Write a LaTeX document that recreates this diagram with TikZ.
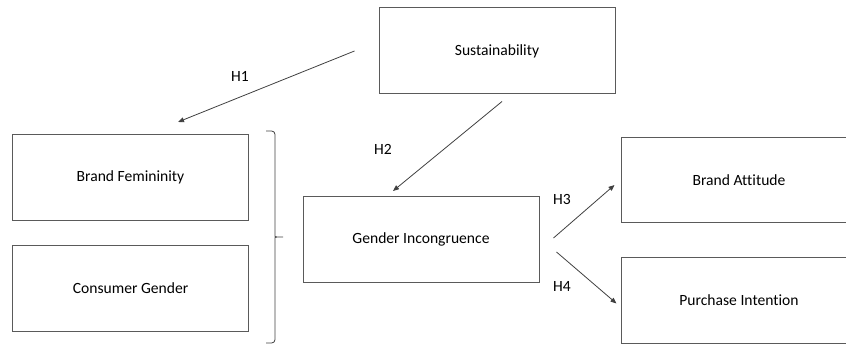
\documentclass[tikz,border=0pt]{standalone}
\usepackage{fontspec}
\setmainfont{Carlito}[Ligatures=CommonOff]
\usepackage{xcolor}
\definecolor{boxLine}{HTML}{5A5A5A}
\definecolor{arrowDark}{HTML}{404040}
\usetikzlibrary{positioning,calc,arrows.meta}
\tikzset{%
  constructBox/.style={%
    rectangle,
    draw=boxLine,
    line width=0.75pt,
    minimum width=177pt,
    minimum height=64.5pt,
    align=center,
    font=\fontsize{11.7}{14}\selectfont
  },
  hypArrow/.style={%
    -{Triangle[length=4.5pt,width=3.6pt]},
    line width=0.6pt,
    color=arrowDark
  },
  hypLabel/.style={%
    inner sep=0pt,
    font=\fontsize{11.7}{14}\selectfont
  },
  braceLine/.style={%
    line width=0.6pt,
    color=arrowDark,
    rounded corners=2.5pt
  }
}

\begin{document}
\begin{tikzpicture}[x=0.75pt,y=-0.75pt]
  \useasboundingbox (0,0) rectangle (846,345);

  % Constructs
  \node[constructBox] (sustain) at (497,51) {Sustainability};
  \node[constructBox] (femininity) at (130.5,177.5) {Brand Femininity};
  \node[constructBox, below=18pt of femininity] (consumer) {Consumer Gender};
  \node[constructBox] (incongruence) at (421,239.5) {Gender Incongruence};
  \node[constructBox, minimum height=63.75pt] (attitude) at (739,180) {Brand Attitude};
  \node[constructBox, below=25.5pt of attitude] (intention) {Purchase Intention};

  % Brace grouping the two antecedents
  \coordinate (braceTip) at (285,237);
  \draw[braceLine] (266,131) -- (275,131) -- (275,233)
    to[out=-90,in=180] (braceTip) to[out=180,in=90] (275,241)
    -- (275,343) -- (266,343);

  % Hypothesis paths
  \coordinate (h1Start) at ($(sustain.west)+(-24,0)$);
  \coordinate (h1End) at ($(femininity.north)+(47.5,-12)$);
  \coordinate (h2Start) at ($(sustain.south)+(5,7)$);
  \coordinate (h2End) at ($(incongruence.north)+(-28,-5)$);
  \coordinate (h3Start) at ($(incongruence.east)+(14,-1.5)$);
  \coordinate (h3End) at ($(attitude.west)+(-6,5)$);
  \coordinate (h4Start) at ($(incongruence.east)+(17,12.5)$);
  \coordinate (h4End) at ($(intention.west)+(-4,3)$);

  \draw[hypArrow] (h1Start) -- (h1End);
  \draw[hypArrow] (h2Start) -- (h2End);
  \draw[hypArrow] (h3Start) -- (h3End);
  \draw[hypArrow] (h4Start) -- (h4End);

  \node[hypLabel] (h1) at (240,76) {H1};
  \node[hypLabel] (h2) at (383,149) {H2};
  \node[hypLabel] (h3) at (562,199) {H3};
  \node[hypLabel] (h4) at (562,286) {H4};
\end{tikzpicture}
\end{document}
